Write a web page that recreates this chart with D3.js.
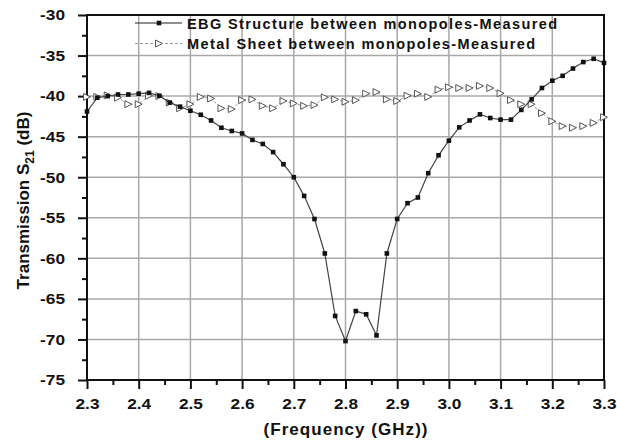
<!DOCTYPE html>
<html><head><meta charset="utf-8">
<script src="https://cdn.jsdelivr.net/npm/d3@7"></script>
<style>
html,body{margin:0;padding:0;background:#fff;}
text{font-family:"Liberation Sans",Arial,sans-serif;font-weight:bold;fill:#111;}
</style></head>
<body><svg id="c" width="617" height="441"></svg>
<script>
const freq = [2.30,2.32,2.34,2.36,2.38,2.40,2.42,2.44,2.46,2.48,2.50,2.52,2.54,2.56,2.58,2.60,2.62,2.64,2.66,2.68,2.70,2.72,2.74,2.76,2.78,2.80,2.82,2.84,2.86,2.88,2.90,2.92,2.94,2.96,2.98,3.00,3.02,3.04,3.06,3.08,3.10,3.12,3.14,3.16,3.18,3.20,3.22,3.24,3.26,3.28,3.30];
const ebg = [-41.9,-40.2,-40.0,-39.8,-39.8,-39.7,-39.6,-39.95,-40.8,-41.3,-41.8,-42.3,-43.0,-43.9,-44.3,-44.6,-45.4,-45.9,-46.9,-48.4,-50.0,-52.3,-55.15,-59.4,-67.1,-70.2,-66.5,-66.9,-69.5,-59.4,-55.15,-53.2,-52.5,-49.5,-47.3,-45.5,-43.85,-43.0,-42.25,-42.7,-42.9,-42.9,-41.7,-40.4,-39.0,-38.1,-37.5,-36.6,-35.8,-35.4,-35.9];
const metal = [-40.1,-40.1,-39.9,-40.2,-41.0,-41.0,-39.95,-40.0,-40.8,-41.5,-41.0,-40.1,-40.3,-41.5,-41.6,-40.5,-40.4,-41.2,-41.5,-40.6,-40.9,-41.2,-41.1,-40.15,-40.4,-40.7,-40.5,-39.7,-39.5,-40.4,-40.6,-39.95,-39.7,-40.1,-39.2,-38.9,-39.0,-39.0,-38.75,-39.0,-39.65,-40.5,-41.0,-41.0,-42.1,-43.1,-43.7,-43.9,-43.7,-43.3,-42.6];
const xTicks = [2.3,2.4,2.5,2.6,2.7,2.8,2.9,3.0,3.1,3.2,3.3];
const yTicks = [-75,-70,-65,-60,-55,-50,-45,-40,-35,-30];
const seriesNames = ["EBG Structure between monopoles-Measured","Metal Sheet between monopoles-Measured"];
const xTitle = "(Frequency (GHz))";

const svg = d3.select("#c");
const L=87,R=604,T=15,B=380, SX=1.15;
const x = d3.scaleLinear().domain([2.3,3.3]).range([L,R]);
const y = d3.scaleLinear().domain([-75,-30]).range([B,T]);

// grid
const grid = svg.append("g").attr("stroke","#a8a8a8").attr("stroke-width",1.5);
grid.selectAll(".gx").data(xTicks.slice(1,-1)).enter().append("line")
  .attr("x1",d=>x(d)).attr("x2",d=>x(d)).attr("y1",T).attr("y2",B);
grid.selectAll(".gy").data(yTicks.slice(1,-1)).enter().append("line")
  .attr("y1",d=>y(d)).attr("y2",d=>y(d)).attr("x1",L).attr("x2",R);

// minor ticks
const xMinor = xTicks.slice(0,-1).map(d=>d+0.05);
const yMinor = yTicks.slice(0,-1).map(d=>d+2.5);
svg.append("g").attr("transform",`translate(0,${B})`)
  .call(d3.axisBottom(x).tickValues(xMinor).tickSize(5).tickFormat(""))
  .call(g=>{g.select(".domain").remove(); g.selectAll("line").attr("stroke","#111").attr("stroke-width",2);});
svg.append("g").attr("transform",`translate(${L},0)`)
  .call(d3.axisLeft(y).tickValues(yMinor).tickSize(5).tickFormat(""))
  .call(g=>{g.select(".domain").remove(); g.selectAll("line").attr("stroke","#111").attr("stroke-width",2);});

// major axes
const xa = svg.append("g").attr("transform",`translate(0,${B})`)
  .call(d3.axisBottom(x).tickValues(xTicks).tickSize(9).tickPadding(9).tickFormat(d=>d.toFixed(1)));
xa.select(".domain").remove();
xa.selectAll("line").attr("stroke","#111").attr("stroke-width",2);
xa.selectAll("text").attr("font-size",15).attr("font-family",null).attr("fill","#111")
  .attr("transform",`scale(${SX},1)`);

const ya = svg.append("g").attr("transform",`translate(${L},0)`)
  .call(d3.axisLeft(y).tickValues(yTicks).tickSize(9).tickFormat(d=>String(d)));
ya.select(".domain").remove();
ya.selectAll("line").attr("stroke","#111").attr("stroke-width",2);
ya.selectAll("text").attr("font-size",15).attr("font-family",null).attr("fill","#111")
  .attr("x",-22/SX).attr("transform",`scale(${SX},1)`);

// frame
svg.append("rect").attr("x",L).attr("y",T).attr("width",R-L).attr("height",B-T)
  .attr("fill","none").attr("stroke","#111").attr("stroke-width",2);

// series
const tri = d3.symbol().type({draw(ctx,size){const r=Math.sqrt(size)/2; ctx.moveTo(r,0); ctx.lineTo(-r,-r); ctx.lineTo(-r,r); ctx.closePath();}}).size(48);
const line = d3.line().x((d,i)=>x(freq[i])).y(d=>y(d));

svg.append("path").datum(metal).attr("d",line).attr("fill","none")
  .attr("stroke","#9a9a9a").attr("stroke-width",1).attr("stroke-dasharray","3,2");
svg.selectAll(".mt").data(metal).enter().append("path")
  .attr("d",tri).attr("transform",(d,i)=>`translate(${x(freq[i])},${y(d)})`)
  .attr("fill","#fff").attr("stroke","#555").attr("stroke-width",1);

svg.append("path").datum(ebg).attr("d",line).attr("fill","none")
  .attr("stroke","#444").attr("stroke-width",1.2);
svg.selectAll(".eb").data(ebg).enter().append("rect")
  .attr("x",(d,i)=>x(freq[i])-2.3).attr("y",d=>y(d)-2.3).attr("width",4.6).attr("height",4.6)
  .attr("fill","#111");

// legend
const lg = svg.append("g");
lg.append("line").attr("x1",135).attr("x2",182).attr("y1",23).attr("y2",23).attr("stroke","#222").attr("stroke-width",1.2);
lg.append("rect").attr("x",156.7).attr("y",20.7).attr("width",4.6).attr("height",4.6).attr("fill","#111");
lg.append("line").attr("x1",135).attr("x2",182).attr("y1",43.5).attr("y2",43.5).attr("stroke","#9a9a9a").attr("stroke-dasharray","3,2");
lg.append("path").attr("d",tri).attr("transform","translate(159,43.5)").attr("fill","#fff").attr("stroke","#555");
lg.append("text").attr("x",187).attr("y",28.5).attr("font-size",14.5).attr("textLength",370).attr("lengthAdjust","spacing").text(seriesNames[0]);
lg.append("text").attr("x",187).attr("y",49).attr("font-size",14.5).attr("textLength",348).attr("lengthAdjust","spacing").text(seriesNames[1]);

// titles
svg.append("text").attr("x",(L+R)/2).attr("y",435).attr("text-anchor","middle").attr("font-size",17)
  .attr("textLength",164).attr("lengthAdjust","spacing").text(xTitle);
const yt = svg.append("text").attr("transform",`translate(29,${(T+B)/2+3}) rotate(-90)`).attr("text-anchor","middle").attr("font-size",17);
yt.append("tspan").text("Transmission S");
yt.append("tspan").attr("font-size",12).attr("dy",5).text("21");
yt.append("tspan").attr("dy",-5).text(" (dB)");
</script></body></html>
